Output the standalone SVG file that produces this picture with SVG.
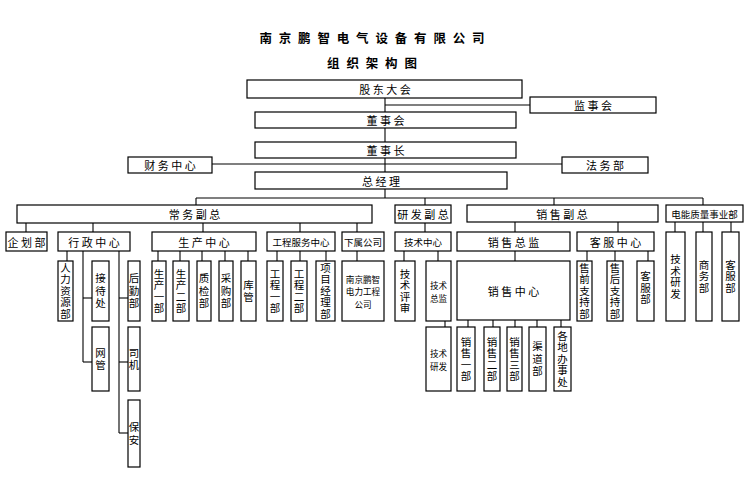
<svg xmlns="http://www.w3.org/2000/svg" width="746" height="484" viewBox="0 0 746 484">
<style>
.b{fill:#fff;stroke:#000;stroke-width:1.2}
.t{font-family:"Noto Sans CJK SC","Noto Sans",sans-serif;font-size:11px;text-anchor:middle;dominant-baseline:central;fill:#000}
.s{font-size:9.5px}
.m{font-size:8.6px}
.vt{font-family:"Noto Sans CJK SC",sans-serif;font-size:10.5px;text-anchor:middle;writing-mode:vertical-rl;fill:#000;letter-spacing:1px}
.w{letter-spacing:2px}
.ti{font-family:"Noto Sans CJK SC",sans-serif;font-size:12.5px;font-weight:bold;text-anchor:middle;dominant-baseline:central;letter-spacing:2px}
#conn line{stroke:#000;stroke-width:1.1}
</style>
<rect width="746" height="484" fill="#fff"/>
<text class="ti" x="373" y="37">南 京 鹏 智 电 气 设 备 有 限 公 司</text>
<text class="ti" x="373" y="62">组 织 架 构 图</text>
<g id="conn">
<line x1="385" y1="98" x2="385" y2="112"/>
<line x1="385" y1="105" x2="530" y2="105"/>
<line x1="385" y1="128" x2="385" y2="142"/>
<line x1="385" y1="158" x2="385" y2="172"/>
<line x1="212" y1="164" x2="562" y2="164"/>
<line x1="385" y1="189" x2="385" y2="198"/>
<line x1="196" y1="198" x2="703" y2="198"/>
<line x1="196" y1="198" x2="196" y2="205"/>
<line x1="425" y1="198" x2="425" y2="205"/>
<line x1="554" y1="198" x2="554" y2="205"/>
<line x1="703" y1="198" x2="703" y2="205"/>
<line x1="26" y1="223" x2="26" y2="232"/>
<line x1="93" y1="223" x2="93" y2="232"/>
<line x1="203" y1="223" x2="203" y2="232"/>
<line x1="300" y1="223" x2="300" y2="232"/>
<line x1="357" y1="223" x2="357" y2="232"/>
<line x1="425" y1="223" x2="425" y2="232"/>
<line x1="515" y1="222" x2="515" y2="232"/>
<line x1="618" y1="222" x2="618" y2="232"/>
<line x1="675" y1="222" x2="675" y2="232"/>
<line x1="703" y1="222" x2="703" y2="232"/>
<line x1="731" y1="222" x2="731" y2="232"/>
<line x1="67" y1="251" x2="67" y2="261"/>
<line x1="83" y1="251" x2="83" y2="362"/>
<line x1="83" y1="298" x2="92" y2="298"/>
<line x1="83" y1="362" x2="92" y2="362"/>
<line x1="119" y1="251" x2="119" y2="433"/>
<line x1="119" y1="298" x2="128" y2="298"/>
<line x1="119" y1="362" x2="128" y2="362"/>
<line x1="119" y1="433" x2="128" y2="433"/>
<line x1="158" y1="251" x2="158" y2="261"/>
<line x1="180" y1="251" x2="180" y2="261"/>
<line x1="202" y1="251" x2="202" y2="261"/>
<line x1="225" y1="251" x2="225" y2="261"/>
<line x1="248" y1="251" x2="248" y2="261"/>
<line x1="277" y1="251" x2="277" y2="261"/>
<line x1="300" y1="251" x2="300" y2="261"/>
<line x1="326" y1="251" x2="326" y2="261"/>
<line x1="357" y1="251" x2="357" y2="261"/>
<line x1="404" y1="251" x2="404" y2="261"/>
<line x1="438" y1="251" x2="438" y2="261"/>
<line x1="445" y1="321" x2="445" y2="327"/>
<line x1="515" y1="251" x2="515" y2="261"/>
<line x1="468" y1="320" x2="468" y2="327"/>
<line x1="493" y1="320" x2="493" y2="327"/>
<line x1="515" y1="320" x2="515" y2="327"/>
<line x1="537" y1="320" x2="537" y2="327"/>
<line x1="561" y1="320" x2="561" y2="327"/>
<line x1="587" y1="251" x2="587" y2="261"/>
<line x1="615" y1="251" x2="615" y2="261"/>
<line x1="648" y1="251" x2="648" y2="261"/>
</g>
<g id="gudong"><rect class="b" x="247" y="80" width="275" height="18"/><text class="t" x="385" y="89">股 东 大 会</text></g>
<g id="jianshi"><rect class="b" x="530" y="97" width="126" height="16"/><text class="t" x="593" y="105">监 事 会</text></g>
<g id="dongshihui"><rect class="b" x="255" y="112" width="261" height="16"/><text class="t" x="385.5" y="120">董 事 会</text></g>
<g id="dongshizhang"><rect class="b" x="255" y="142" width="261" height="16"/><text class="t" x="385.5" y="150">董 事 长</text></g>
<g id="caiwu"><rect class="b" x="128" y="157" width="84" height="16"/><text class="t" x="170" y="165">财 务 中 心</text></g>
<g id="fawu"><rect class="b" x="562" y="157" width="86" height="16"/><text class="t" x="605" y="165">法 务 部</text></g>
<g id="zongjingli"><rect class="b" x="255" y="172" width="252" height="17"/><text class="t" x="381" y="180.5">总 经 理</text></g>
<g id="changwu"><rect class="b" x="17" y="205" width="355" height="18"/><text class="t" x="194.5" y="214">常 务 副 总</text></g>
<g id="yanfa"><rect class="b" x="395" y="205" width="56" height="18"/><text class="t" x="423" y="214">研 发 副 总</text></g>
<g id="xiaoshou"><rect class="b" x="467" y="205" width="191" height="17"/><text class="t" x="562" y="213.5">销 售 副 总</text></g>
<g id="dianneng"><rect class="b" x="666" y="205" width="77" height="17"/><text class="t s" x="704.5" y="213.5">电能质量事业部</text></g>
<g id="qihua"><rect class="b" x="6" y="232" width="41" height="19"/><text class="t" x="26.5" y="241.5">企 划 部</text></g>
<g id="xingzheng"><rect class="b" x="58" y="232" width="72" height="19"/><text class="t" x="94" y="241.5">行 政 中 心</text></g>
<g id="shengchan"><rect class="b" x="152" y="232" width="104" height="19"/><text class="t" x="204" y="241.5">生 产 中 心</text></g>
<g id="gongcheng"><rect class="b" x="267" y="232" width="68" height="19"/><text class="t s" x="301" y="241.5">工程服务中心</text></g>
<g id="xiashu"><rect class="b" x="342" y="232" width="42" height="19"/><text class="t s" x="363" y="241.5">下属公司</text></g>
<g id="jishuzhongxin"><rect class="b" x="395" y="232" width="56" height="19"/><text class="t s" x="423" y="241.5">技术中心</text></g>
<g id="xiaoshouzongjian"><rect class="b" x="457" y="232" width="113" height="19"/><text class="t" x="513.5" y="241.5">销 售 总 监</text></g>
<g id="kefuzhongxin"><rect class="b" x="577" y="232" width="77" height="19"/><text class="t" x="615.5" y="241.5">客 服 中 心</text></g>
<g id="renli"><rect class="b" x="58" y="261" width="15" height="60"/><text class="vt" x="65.5" y="291.5">人力资源部</text></g>
<g id="jiedai"><rect class="b" x="92" y="261" width="17" height="60"/><text class="vt w" x="100.5" y="292">接待处</text></g>
<g id="houqin"><rect class="b" x="128" y="261" width="12" height="60"/><text class="vt w" x="134" y="292">后勤部</text></g>
<g id="wangguan"><rect class="b" x="92" y="327" width="17" height="64"/><text class="vt w" x="100.5" y="360">网管</text></g>
<g id="siji"><rect class="b" x="128" y="327" width="12" height="64"/><text class="vt w" x="134" y="360">司机</text></g>
<g id="baoan"><rect class="b" x="128" y="400" width="12" height="67"/><text class="vt w" x="134" y="434.5">保安</text></g>
<g id="sc1"><rect class="b" x="152" y="261" width="14" height="60"/><text class="vt" x="159" y="291.5">生产一部</text></g>
<g id="sc2"><rect class="b" x="173" y="261" width="16" height="60"/><text class="vt" x="181" y="291.5">生产二部</text></g>
<g id="zhijian"><rect class="b" x="197" y="261" width="14" height="60"/><text class="vt w" x="204" y="292">质检部</text></g>
<g id="caigou"><rect class="b" x="219" y="261" width="14" height="60"/><text class="vt w" x="226" y="292">采购部</text></g>
<g id="kuguan"><rect class="b" x="241" y="261" width="15" height="60"/><text class="vt w" x="248.5" y="292">库管</text></g>
<g id="gc1"><rect class="b" x="267" y="261" width="16" height="60"/><text class="vt" x="275" y="291.5">工程一部</text></g>
<g id="gc2"><rect class="b" x="291" y="261" width="16" height="60"/><text class="vt" x="299" y="291.5">工程二部</text></g>
<g id="xiangmu"><rect class="b" x="316" y="261" width="19" height="60"/><text class="vt" x="325.5" y="291.5">项目经理部</text></g>
<g id="nanjingdianli"><rect class="b" x="342" y="261" width="42" height="60"/><text class="t m"><tspan x="363" y="278.5">南京鹏智</tspan><tspan x="363" y="291">电力工程</tspan><tspan x="363" y="303.5">公司</tspan></text></g>
<g id="pingshen"><rect class="b" x="395" y="261" width="20" height="60"/><text class="vt" x="405" y="291.5">技术评审</text></g>
<g id="jishuzongjian"><rect class="b" x="426" y="261" width="25" height="60"/><text class="t m"><tspan x="438.5" y="285">技术</tspan><tspan x="438.5" y="297.5">总监</tspan></text></g>
<g id="jishuyanfa"><rect class="b" x="426" y="327" width="25" height="64"/><text class="t m"><tspan x="438.5" y="353">技术</tspan><tspan x="438.5" y="365.5">研发</tspan></text></g>
<g id="xiaoshouzhongxin"><rect class="b" x="457" y="261" width="113" height="59"/><text class="t" x="513.5" y="291">销 售 中 心</text></g>
<g id="xs1"><rect class="b" x="457" y="327" width="18" height="64"/><text class="vt" x="466" y="359.5">销售一部</text></g>
<g id="xs2"><rect class="b" x="484" y="327" width="16" height="64"/><text class="vt" x="492" y="359.5">销售二部</text></g>
<g id="xs3"><rect class="b" x="507" y="327" width="15" height="64"/><text class="vt" x="514.5" y="359.5">销售三部</text></g>
<g id="qudao"><rect class="b" x="529" y="327" width="17" height="64"/><text class="vt w" x="537.5" y="360">渠道部</text></g>
<g id="banshichu"><rect class="b" x="554" y="327" width="17" height="64"/><text class="vt" x="562.5" y="359.5">各地办事处</text></g>
<g id="shouqian"><rect class="b" x="577" y="261" width="15" height="60"/><text class="vt" x="584.5" y="291.5">售前支持部</text></g>
<g id="shouhou"><rect class="b" x="607" y="261" width="16" height="60"/><text class="vt" x="615" y="291.5">售后支持部</text></g>
<g id="kefubu1"><rect class="b" x="637" y="261" width="17" height="60"/><text class="vt" x="645.5" y="288.5">客服部</text></g>
<g id="dn_yanfa"><rect class="b" x="666" y="232" width="19" height="89"/><text class="vt" x="675.5" y="277">技术研发</text></g>
<g id="dn_shangwu"><rect class="b" x="696" y="232" width="16" height="89"/><text class="vt" x="704" y="277">商务部</text></g>
<g id="dn_kefu"><rect class="b" x="722" y="232" width="17" height="89"/><text class="vt" x="730.5" y="277">客服部</text></g>
</svg>
